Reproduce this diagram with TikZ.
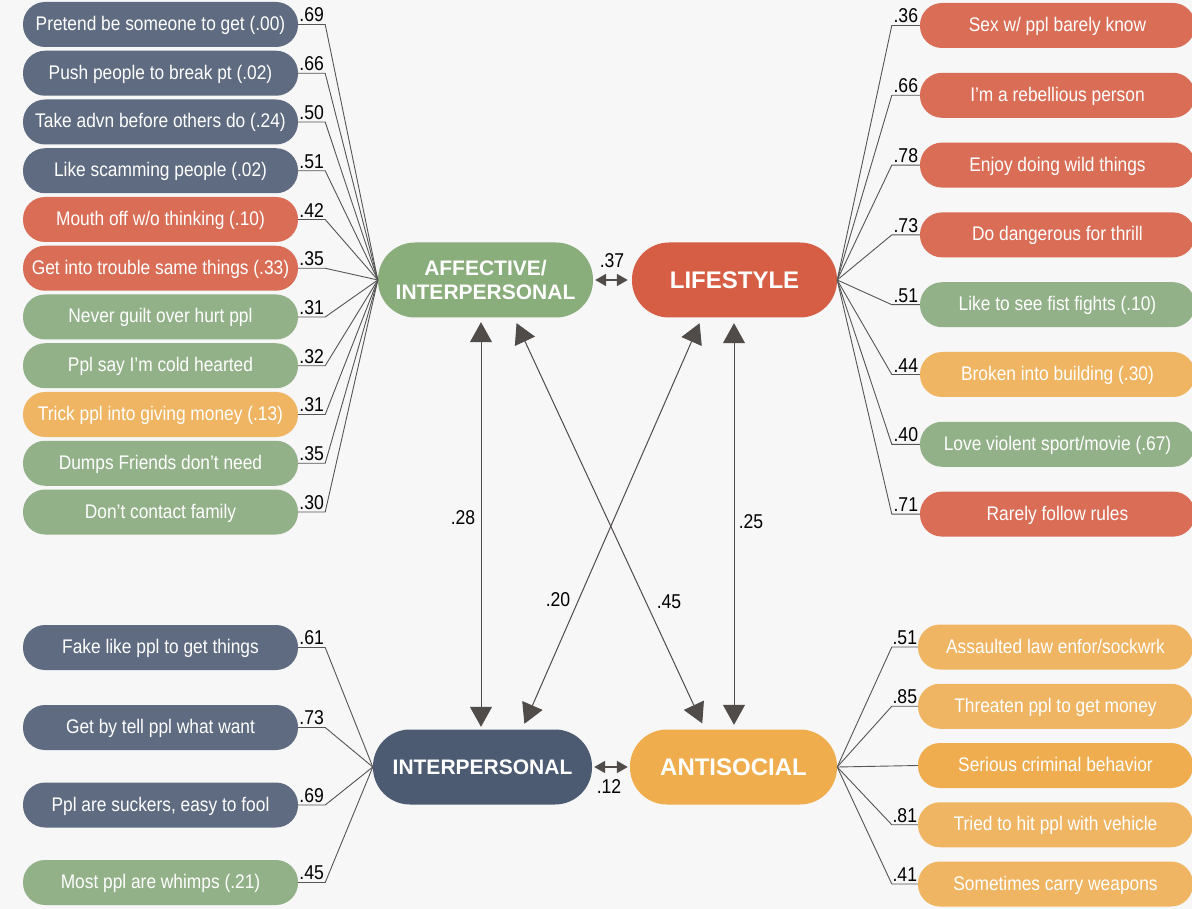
\documentclass[tikz,border=0pt]{standalone}
\usepackage{fontspec}
\setmainfont{Liberation Sans}
\newfontfamily\narrowf[FakeStretch=0.88]{Liberation Sans}
\usetikzlibrary{arrows.meta}
\definecolor{bgc}{HTML}{F7F7F7}
\definecolor{slate}{HTML}{5F6B80}
\definecolor{slateN}{HTML}{4D5B72}
\definecolor{redb}{HTML}{D96D56}
\definecolor{redN}{HTML}{D55E44}
\definecolor{grnb}{HTML}{93B189}
\definecolor{grnN}{HTML}{89AD7B}
\definecolor{orb}{HTML}{EFB562}
\definecolor{orS}{HTML}{EFAD50}
\definecolor{orN}{HTML}{F0AD4E}
\definecolor{linec}{HTML}{555555}
\definecolor{arrc}{HTML}{4F4C4A}
\begin{document}
\begin{tikzpicture}[x=1pt,y=-1pt,
  item/.style={rounded corners=22pt, minimum width=275pt, minimum height=45pt,
    inner sep=0pt, text=white, text height=14pt, text depth=2pt,
    font=\narrowf\fontsize{19.7}{22}\selectfont},
  factor/.style={rounded corners=37pt, minimum height=75pt, inner sep=0pt,
    text=white, font=\bfseries\fontsize{24}{26}\selectfont, align=center},
  ld/.style={draw=linec, line width=0.9pt},
  lab/.style={font=\narrowf\fontsize{20}{22}\selectfont, text=black, inner sep=1pt},
  big/.style={draw=arrc, line width=1pt, {Triangle[length=20pt,width=22pt]}-{Triangle[length=20pt,width=22pt]}},
  small/.style={draw=arrc, line width=2pt, {Triangle[length=11pt,width=12pt]}-{Triangle[length=11pt,width=12pt]}}
]
\useasboundingbox (0,0) rectangle (1192,909);
\fill[bgc] (0,0) rectangle (1192,909);

% factors
\node[factor, fill=grnN, minimum width=215pt, font=\bfseries\fontsize{21}{24}\selectfont] (aff) at (485.5,280) {AFFECTIVE/\\INTERPERSONAL};
\node[factor, fill=redN, minimum width=205pt, text height=17pt, text depth=0pt] (life) at (734.5,280) {LIFESTYLE};
\node[factor, fill=slateN, minimum width=219pt, font=\bfseries\fontsize{21}{24}\selectfont, text height=15pt, text depth=0pt] (inter) at (482.5,767) {INTERPERSONAL};
\node[factor, fill=orN, minimum width=207pt, text height=17pt, text depth=0pt] (ant) at (733.5,767) {ANTISOCIAL};

% affective indicators
\foreach \i/\t/\c/\l in {
  1/{Pretend be someone to get (.00)}/slate/.69,
  2/{Push people to break pt (.02)}/slate/.66,
  3/{Take advn before others do (.24)}/slate/.50,
  4/{Like scamming people (.02)}/slate/.51,
  5/{Mouth off w/o thinking (.10)}/redb/.42,
  6/{Get into trouble same things (.33)}/redb/.35,
  7/{Never guilt over hurt ppl}/grnb/.31,
  8/{Ppl say I’m cold hearted}/grnb/.32,
  9/{Trick ppl into giving money (.13)}/orb/.31,
  10/{Dumps Friends don’t need}/grnb/.35,
  11/{Don’t contact family}/grnb/.30}{
  \node[item, fill=\c] (a\i) at (160.5,{24.5+48.75*(\i-1)}) {\t};
  \draw[ld] (a\i.east) -- ++(27,0) node[lab, midway, above=1pt]{\l} -- (aff.west);
}

% lifestyle indicators
\foreach \i/\t/\c/\l in {
  1/{Sex w/ ppl barely know}/redb/.36,
  2/{I’m a rebellious person}/redb/.66,
  3/{Enjoy doing wild things}/redb/.78,
  4/{Do dangerous for thrill}/redb/.73,
  5/{Like to see fist fights (.10)}/grnb/.51,
  6/{Broken into building (.30)}/orb/.44,
  7/{Love violent sport/movie (.67)}/grnb/.40,
  8/{Rarely follow rules}/redb/.71}{
  \node[item, fill=\c] (l\i) at (1057.5,{25.5+69.8*(\i-1)}) {\t};
  \draw[ld] (l\i.west) -- ++(-28,0) node[lab, midway, above=1pt]{\l} -- (life.east);
}

% interpersonal indicators
\foreach \i/\y/\t/\c/\l in {
  1/647.5/{Fake like ppl to get things}/slate/.61,
  2/727.5/{Get by tell ppl what want}/slate/.73,
  3/805/{Ppl are suckers, easy to fool}/slate/.69,
  4/882.5/{Most ppl are whimps (.21)}/grnb/.45}{
  \node[item, fill=\c] (p\i) at (160.5,\y) {\t};
  \draw[ld] (p\i.east) -- ++(27,0) node[lab, midway, above=1pt]{\l} -- (inter.west);
}

% antisocial indicators
\foreach \i/\t/\l in {
  1/{Assaulted law enfor/sockwrk}/.51,
  2/{Threaten ppl to get money}/.85,
  4/{Tried to hit ppl with vehicle}/.81,
  5/{Sometimes carry weapons}/.41}{
  \node[item, fill=orb] (s\i) at (1055.5,{647+59.25*(\i-1)}) {\t};
  \draw[ld] (s\i.west) -- ++(-26,0) node[lab, midway, above=1pt]{\l} -- (ant.east);
}
\node[item, fill=orS] (s3) at (1055.5,765.5) {Serious criminal behavior};
\draw[ld] (ant.east) -- (s3.west);

% correlations
\draw[small, shorten <=2pt, shorten >=4pt] (aff.east) -- (life.west);
\node[lab] (c37) at (612,261) {.37};
\draw[small, shorten <=2pt, shorten >=2pt] (inter.east) -- (ant.west);
\node[lab] (c12) at (609,787) {.12};

\draw[big, shorten <=4.5pt, shorten >=2.5pt] ([xshift=-4.5pt]aff.south) -- ([xshift=-1.5pt]inter.north);
\draw[big, shorten <=6pt, shorten >=6.5pt] ([xshift=28.5pt]aff.south) -- ([xshift=-28.5pt]ant.north);
\draw[big, shorten <=6pt, shorten >=6pt] ([xshift=-32.5pt]life.south) -- ([xshift=39.5pt]inter.north);
\draw[big, shorten <=5.5pt, shorten >=4.5pt] ([xshift=-0.5pt]life.south) -- ([xshift=0.5pt]ant.north);

\node[lab] (c28) at (463,518) {.28};
\node[lab] (c25) at (751,522) {.25};
\node[lab] (c20) at (558,600) {.20};
\node[lab] (c45) at (669,602) {.45};
\end{tikzpicture}
\end{document}
